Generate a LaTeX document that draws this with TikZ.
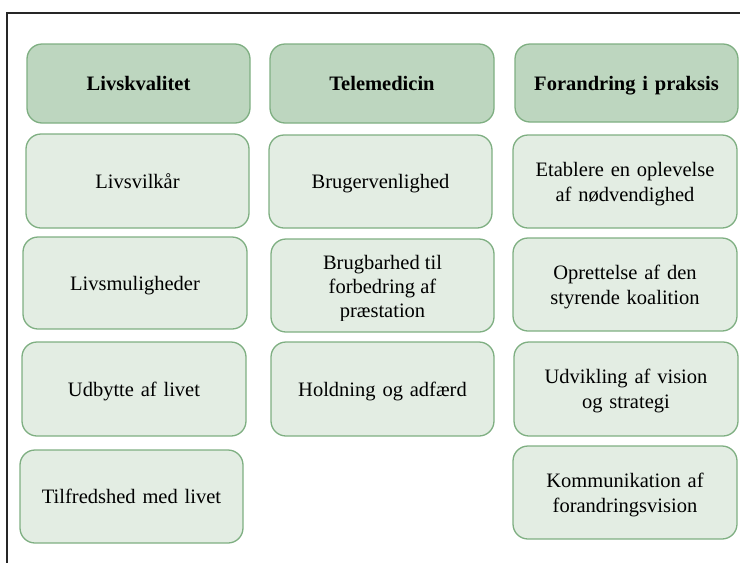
\documentclass[tikz,border=0pt]{standalone}
\usepackage{fontspec}
\setmainfont{Liberation Serif}
\definecolor{hdrfill}{HTML}{BDD6BF}
\definecolor{boxfill}{HTML}{E3EDE3}
\definecolor{boxline}{HTML}{7FAF82}
\definecolor{frameline}{HTML}{262626}
\tikzset{
  base/.style={draw=boxline, line width=1.3pt, rounded corners=15pt, inner sep=4pt,
    align=center, font=\fontsize{20.5}{25}\selectfont, text width=205pt, text depth=0pt},
  hdr/.style={base, fill=hdrfill, font=\fontsize{20.5}{25}\selectfont\bfseries},
  item/.style={base, fill=boxfill},
  itemtwo/.style={item, text depth=25pt},
}
\newcommand{\bx}[7]{% style, name, x1, y1, x2, y2, text
  \node[#1, minimum width={(#5)-(#3)}, minimum height={(#6)-(#4)}]
    (#2) at ({((#3)+(#5))/2},{((#4)+(#6))/2}) {#7};}
\begin{document}
\begin{tikzpicture}[x=1pt,y=-1pt]
\useasboundingbox (0,0) rectangle (740,563);
% frame
\coordinate (ftl) at (7,13);
\coordinate (ftr) at (740,13);
\coordinate (fbl) at (7,563);
\draw[frameline, line width=2pt] (ftr) -- (ftl) -- (fbl);
% column 1
\bx{hdr}{h1}{27}{44}{250}{123}{Livskvalitet}
\bx{item}{a1}{26}{134}{249}{228}{Livsvilkår}
\bx{item}{a2}{23}{237}{247}{329}{Livsmuligheder}
\bx{item}{a3}{22}{342}{246}{436}{Udbytte af livet}
\bx{item}{a4}{20}{450}{243}{543}{Tilfredshed med livet}
% column 2
\bx{hdr}{h2}{270}{44}{494}{123}{Telemedicin}
\bx{item}{b1}{269}{135}{492}{228}{Brugervenlighed}
\bx{item}{b2}{271}{239}{494}{332}{}
\begin{scope}
  \clip (271,239) rectangle (494,320);
  \node[font=\fontsize{20.5}{24}\selectfont, align=center, anchor=base, inner sep=0pt] (b2t) at (382.5,317) {Brugbarhed til\\forbedring af\\præstation};
\end{scope}
\bx{item}{b3}{271}{342}{494}{436}{Holdning og adfærd}
% column 3
\bx{hdr}{h3}{515}{44}{738}{122}{Forandring i praksis}
\bx{itemtwo}{c1}{513}{135}{737}{228}{Etablere en oplevelse\\af nødvendighed}
\bx{itemtwo}{c2}{513}{238}{737}{331}{Oprettelse af den\\styrende koalition}
\bx{itemtwo}{c3}{514}{342}{738}{436}{Udvikling af vision\\og strategi}
\bx{itemtwo}{c4}{513}{446}{737}{539}{Kommunikation af\\forandringsvision}
\end{tikzpicture}
\end{document}
